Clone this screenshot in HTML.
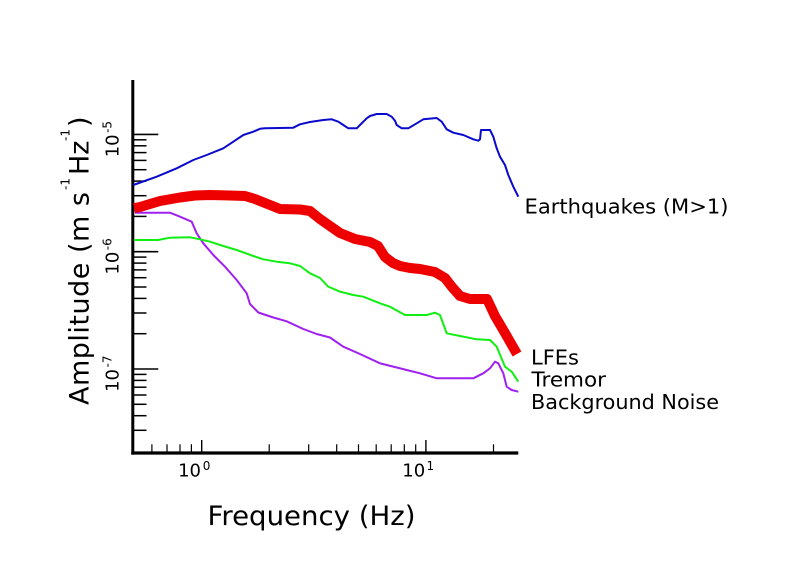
<!DOCTYPE html>
<html>
<head>
<meta charset="utf-8">
<style>
  html, body { margin: 0; padding: 0; background: #ffffff; }
  svg { display: block; }
  text { font-family: "DejaVu Sans", "Liberation Sans", sans-serif; fill: #000; }
</style>
</head>
<body>
<svg width="794" height="567" viewBox="0 0 794 567" xmlns="http://www.w3.org/2000/svg">
  <rect x="0" y="0" width="794" height="567" fill="#ffffff"/>

  <!-- Axes -->
  <line x1="132.8" y1="80" x2="132.8" y2="454.6" stroke="#000" stroke-width="3"/>
  <line x1="131.3" y1="453" x2="518.3" y2="453" stroke="#000" stroke-width="3.2"/>

  <!-- Y major ticks -->
  <g stroke="#000" stroke-width="1.6">
    <line x1="133" y1="134.4" x2="158.3" y2="134.4"/>
    <line x1="133" y1="251.7" x2="158.3" y2="251.7"/>
    <line x1="133" y1="369" x2="158.3" y2="369"/>
  </g>
  <!-- Y minor ticks -->
  <g stroke="#000" stroke-width="1.5">
    <line x1="133" y1="139.8" x2="146.5" y2="139.8"/>
    <line x1="133" y1="145.8" x2="146.5" y2="145.8"/>
    <line x1="133" y1="152.6" x2="146.5" y2="152.6"/>
    <line x1="133" y1="160.4" x2="146.5" y2="160.4"/>
    <line x1="133" y1="169.7" x2="146.5" y2="169.7"/>
    <line x1="133" y1="181.1" x2="146.5" y2="181.1"/>
    <line x1="133" y1="195.7" x2="146.5" y2="195.7"/>
    <line x1="133" y1="216.4" x2="146.5" y2="216.4"/>

    <line x1="133" y1="257.1" x2="146.5" y2="257.1"/>
    <line x1="133" y1="263.1" x2="146.5" y2="263.1"/>
    <line x1="133" y1="269.9" x2="146.5" y2="269.9"/>
    <line x1="133" y1="277.7" x2="146.5" y2="277.7"/>
    <line x1="133" y1="287.0" x2="146.5" y2="287.0"/>
    <line x1="133" y1="298.4" x2="146.5" y2="298.4"/>
    <line x1="133" y1="313.0" x2="146.5" y2="313.0"/>
    <line x1="133" y1="333.7" x2="146.5" y2="333.7"/>

    <line x1="133" y1="374.4" x2="146.5" y2="374.4"/>
    <line x1="133" y1="380.4" x2="146.5" y2="380.4"/>
    <line x1="133" y1="387.2" x2="146.5" y2="387.2"/>
    <line x1="133" y1="395.0" x2="146.5" y2="395.0"/>
    <line x1="133" y1="404.3" x2="146.5" y2="404.3"/>
    <line x1="133" y1="415.7" x2="146.5" y2="415.7"/>
    <line x1="133" y1="430.3" x2="146.5" y2="430.3"/>
  </g>

  <!-- X ticks -->
  <g stroke="#000" stroke-width="1.4">
    <line x1="201.7" y1="440" x2="201.7" y2="452"/>
    <line x1="425.9" y1="440" x2="425.9" y2="452"/>
  </g>
  <g stroke="#000" stroke-width="1.2">
    <line x1="151.9" y1="444.3" x2="151.9" y2="452"/>
    <line x1="167.0" y1="444.3" x2="167.0" y2="452"/>
    <line x1="180.0" y1="444.3" x2="180.0" y2="452"/>
    <line x1="191.4" y1="444.3" x2="191.4" y2="452"/>
    <line x1="269.2" y1="444.3" x2="269.2" y2="452"/>
    <line x1="308.7" y1="444.3" x2="308.7" y2="452"/>
    <line x1="336.7" y1="444.3" x2="336.7" y2="452"/>
    <line x1="358.5" y1="444.3" x2="358.5" y2="452"/>
    <line x1="376.2" y1="444.3" x2="376.2" y2="452"/>
    <line x1="391.2" y1="444.3" x2="391.2" y2="452"/>
    <line x1="404.3" y1="444.3" x2="404.3" y2="452"/>
    <line x1="415.7" y1="444.3" x2="415.7" y2="452"/>
    <line x1="493.5" y1="444.3" x2="493.5" y2="452"/>
  </g>

  <!-- X tick labels -->
  <text x="201" y="476.7" font-size="18" text-anchor="end">10</text>
  <text x="202.7" y="470" font-size="12">0</text>
  <text x="425.2" y="476.7" font-size="18" text-anchor="end">10</text>
  <text x="426.5" y="470" font-size="12">1</text>

  <!-- Y tick labels (rotated) -->
  <g transform="translate(118.5,134.4) rotate(-90)">
    <text x="0" y="0" font-size="18" text-anchor="end">10</text>
    <text x="1.5" y="-7" font-size="12">-5</text>
  </g>
  <g transform="translate(118.5,251.7) rotate(-90)">
    <text x="0" y="0" font-size="18" text-anchor="end">10</text>
    <text x="1.5" y="-7" font-size="12">-6</text>
  </g>
  <g transform="translate(118.5,369) rotate(-90)">
    <text x="0" y="0" font-size="18" text-anchor="end">10</text>
    <text x="1.5" y="-7" font-size="12">-7</text>
  </g>

  <!-- Axis titles -->
  <text x="207.5" y="525" font-size="27" textLength="208" lengthAdjust="spacingAndGlyphs">Frequency (Hz)</text>

  <g transform="translate(88.3,405) rotate(-90)">
    <text x="0" y="0" font-size="27" textLength="213" lengthAdjust="spacing">Amplitude (m s</text>
    <text x="215" y="-19" font-size="12">-1</text>
    <text x="230" y="0" font-size="27">Hz</text>
    <text x="264" y="-19" font-size="12">-1</text>
    <text x="278" y="0" font-size="27">)</text>
  </g>

  <!-- Series -->
  <!-- Background noise (purple) -->
  <polyline fill="none" stroke="#a020f0" stroke-width="2" stroke-linejoin="round"
    points="135,212.7 170,212.7 180,216.7 191.7,221.7 196.7,233.3 203.3,243.3 213.3,255 225,266.7 236.7,280 246.7,293.3 250,304 258.3,312.5 273.3,317.5 286.7,321.3 303.3,329 316.7,334 330,337.5 343.3,346.7 360,354 380,363.3 406.7,370 420,373.3 436.7,378.3 473.3,378.3 483.3,373.3 490,368.3 495,361.7 498.3,363.3 503.3,373.3 506.7,386.7 511.7,390 518.3,391.7"/>

  <!-- Tremor (green) -->
  <polyline fill="none" stroke="#11ee11" stroke-width="2" stroke-linejoin="round"
    points="134,240 158,240 170,237.7 190,237.3 200,239.3 210,241.7 223.3,246 236.7,250 253.3,256 263.3,259.3 276.7,261.7 290,263.3 300,266 310,273.3 320,278 328,286.5 340,291.7 353.3,295 363.3,296.7 380,303.3 390,306.7 405,315 426.7,315 435,312.7 440,315 446.7,333.3 460,336 476.7,339.3 490,340 496.7,346.7 505,366.7 511.7,371.7 518.3,381.7"/>

  <!-- LFEs (red, thick) -->
  <polyline fill="none" stroke="#ee0000" stroke-width="10" stroke-linejoin="round" stroke-linecap="butt"
    points="134,208 140,207 160,201 180,197.5 195,195.5 210,195 230,195.5 245,196 255,199 270,205 280,209 300,209.5 310,211 320,219 330,226 340,233 350,237 355,239 370,242 378,246 385,257 393,263 400,266 410,268 420,269 435,272 445,278 452,287 460,296 470,299 487,299 495,316 505,333 517,354"/>

  <!-- Earthquakes (blue) -->
  <polyline fill="none" stroke="#0a0acd" stroke-width="2" stroke-linejoin="round"
    points="133.3,185 156.7,176.7 176.7,168.3 193.3,160 206.7,155 223.3,148.3 233.3,141.7 243.3,135 253.3,131.7 260,128.8 265,128.3 293.3,127.7 300,124.3 310,122 323.3,120 331.7,119.3 338.3,121.7 343.3,125 348.3,128.3 356.7,128.3 360,125 366.7,118.3 370,116 376.7,114 386.7,114 391.7,116.7 395,120.7 396.7,125 401.7,128.3 408.3,128.3 416.7,123.3 423.3,119.3 436.7,118 441.7,121.7 446.7,129.3 453.3,132.7 463.3,135 473.3,139.3 478.3,140.7 480,139.3 481,130 490,130 493.3,136.7 496.7,148.3 500,156.7 505,165 508.3,175 513.3,186.7 518.3,196.7"/>

  <!-- Legend labels -->
  <text x="524.5" y="213.3" font-size="20.5" textLength="204" lengthAdjust="spacingAndGlyphs">Earthquakes (M&gt;1)</text>
  <text x="531" y="364.3" font-size="20.5" textLength="48" lengthAdjust="spacingAndGlyphs">LFEs</text>
  <text x="531.5" y="386.7" font-size="20.5" textLength="74.5" lengthAdjust="spacingAndGlyphs">Tremor</text>
  <text x="531" y="409" font-size="20.5" textLength="188" lengthAdjust="spacingAndGlyphs">Background Noise</text>
</svg>
</body>
</html>
